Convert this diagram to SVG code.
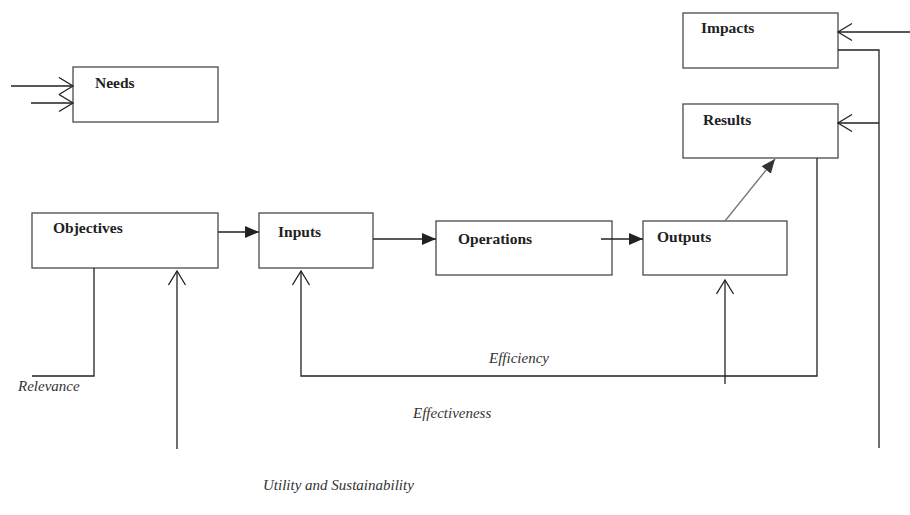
<svg xmlns="http://www.w3.org/2000/svg" width="910" height="515" viewBox="0 0 910 515">
<style>
.box{fill:#fff;stroke:#4a4a4a;stroke-width:1.3}
.lbl{font-family:"Liberation Serif","Times New Roman",serif;font-weight:bold;font-size:15.5px;fill:#222}
.it{font-family:"Liberation Serif","Times New Roman",serif;font-style:italic;font-size:15px;fill:#333}
.ln{fill:none;stroke:#222;stroke-width:1.3}
</style>
<defs>
<marker id="open" markerUnits="userSpaceOnUse" markerWidth="20" markerHeight="20" refX="15" refY="9.5" orient="auto">
<path d="M1,1 L15,9.5 L1,18" fill="none" stroke="#222" stroke-width="1.3"/>
</marker>
<marker id="fill" markerUnits="userSpaceOnUse" markerWidth="16" markerHeight="14" refX="14" refY="6" orient="auto">
<path d="M0,0 L14,6 L0,12 z" fill="#222"/>
</marker>
<marker id="fillg" markerUnits="userSpaceOnUse" markerWidth="16" markerHeight="14" refX="14" refY="6" orient="auto">
<path d="M0,0 L14,6 L0,12 z" fill="#333"/>
</marker>
</defs>
<g id="needs"><rect class="box" x="73" y="67" width="145" height="55"/><text class="lbl" x="95" y="88">Needs</text></g>
<g id="impacts"><rect class="box" x="683" y="13" width="155" height="55"/><text class="lbl" x="701" y="33">Impacts</text></g>
<g id="results"><rect class="box" x="683" y="104" width="155" height="54"/><text class="lbl" x="703" y="125">Results</text></g>
<g id="objectives"><rect class="box" x="32" y="213" width="186" height="55"/><text class="lbl" x="53" y="233">Objectives</text></g>
<g id="inputs"><rect class="box" x="259" y="213" width="114" height="55"/><text class="lbl" x="278" y="237">Inputs</text></g>
<g id="operations"><rect class="box" x="436" y="221" width="176" height="54"/><text class="lbl" x="458" y="244">Operations</text></g>
<g id="outputs"><rect class="box" x="643" y="221" width="144" height="54"/><text class="lbl" x="657" y="242">Outputs</text></g>
<g id="connectors">
<line class="ln" x1="11" y1="86" x2="73" y2="86" marker-end="url(#open)"/>
<line class="ln" x1="31" y1="103" x2="73" y2="103" marker-end="url(#open)"/>
<line class="ln" x1="910" y1="32" x2="838" y2="32" marker-end="url(#open)"/>
<polyline class="ln" points="838,50 879,50 879,448"/>
<line class="ln" x1="879" y1="123" x2="838" y2="123" marker-end="url(#open)"/>
<line class="ln" x1="218" y1="232" x2="259" y2="232" marker-end="url(#fill)"/>
<line class="ln" x1="373" y1="239" x2="436" y2="239" marker-end="url(#fill)"/>
<line class="ln" x1="601" y1="239" x2="643" y2="239" marker-end="url(#fill)"/>
<line x1="725" y1="221" x2="775" y2="159" stroke="#777" stroke-width="1.3" marker-end="url(#fillg)"/>
<polyline class="ln" points="817,158 817,376 301,376 301,271" marker-end="url(#open)"/>
<line class="ln" x1="725" y1="384" x2="725" y2="280" marker-end="url(#open)"/>
<polyline class="ln" points="94,268 94,376 32,376"/>
<line class="ln" x1="177" y1="449" x2="177" y2="271" marker-end="url(#open)"/>
</g>
<text class="it" x="489" y="363">Efficiency</text>
<text class="it" x="18" y="391">Relevance</text>
<text class="it" x="413" y="418">Effectiveness</text>
<text class="it" x="263" y="490">Utility and Sustainability</text>
</svg>
